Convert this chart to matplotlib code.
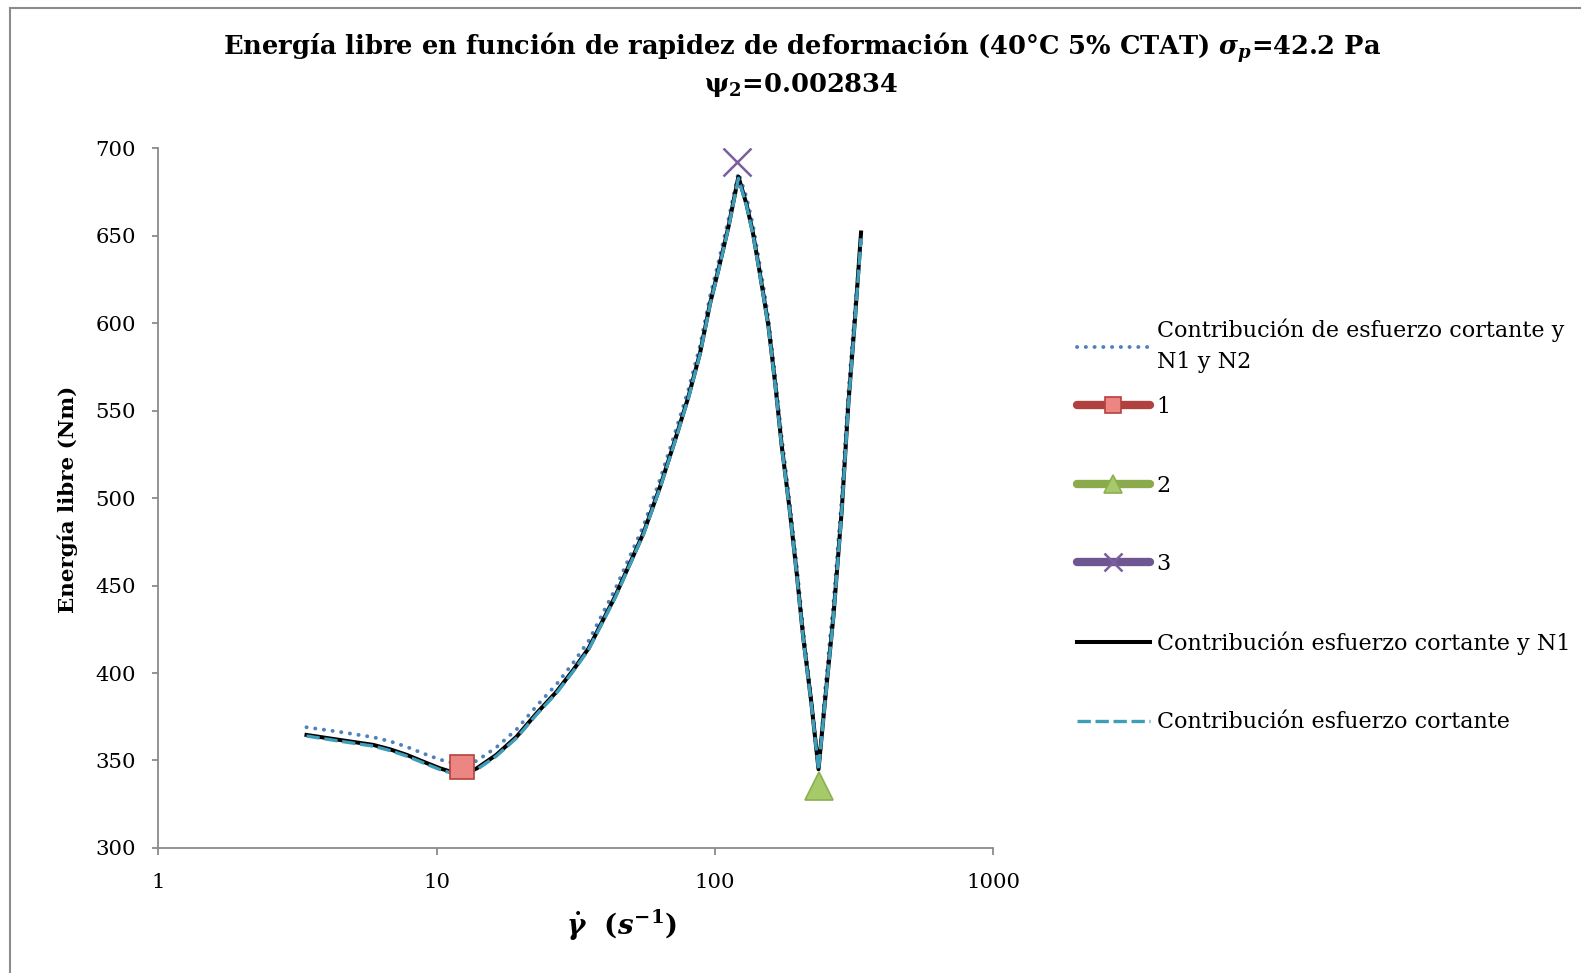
import numpy as np
import matplotlib.pyplot as plt
from matplotlib.lines import Line2D

plt.rcParams['font.family'] = ['DejaVu Serif']
plt.rcParams['mathtext.fontset'] = 'custom'
plt.rcParams['mathtext.it'] = 'DejaVu Serif:italic:bold'
plt.rcParams['mathtext.rm'] = 'DejaVu Serif:bold'
plt.rcParams['mathtext.bf'] = 'DejaVu Serif:bold'

# shear rate (1/s)
rate = [3.41, 4.51, 5.93, 6.8, 7.82, 8.97, 10.3, 12.3, 13.95, 16.4, 19.4, 22.9,
        27.0, 31.0, 35.2, 43.8, 55.4, 63.6, 72, 80.4, 88.5, 96.2, 103, 112,
        121.6, 130, 137, 144, 150, 156, 165, 174, 186, 197, 208, 222, 236,
        249, 267, 286, 302, 319, 335.5]

# contribucion esfuerzo cortante + N1 + N2
e_n1n2 = [369.0, 366.3, 363.3, 361.0, 357.8, 354.0, 350.5, 347.2, 349.8, 357.5,
          367.8, 381.2, 393.6, 405.9, 418.3, 447.8, 484.0, 510.8, 537.4, 562.0,
          587.0, 615.5, 634.6, 659.3, 686.0, 672.0, 656.5, 636.5, 619.5, 602.5,
          569.5, 534.5, 497.5, 461.5, 424.5, 386.5, 344.0, 390.0, 440.0, 500.0,
          560.0, 608.0, 648.0]

# contribucion esfuerzo cortante + N1
e_n1 = [364.6, 361.7, 358.9, 356.4, 353.2, 349.3, 345.5, 341.7, 345.5, 353.2,
        363.6, 377.0, 389.3, 401.7, 414.1, 443.6, 479.9, 506.5, 533.2, 557.9,
        582.8, 611.3, 630.4, 655.1, 683.7, 668.0, 652.0, 632.0, 615.0, 598.0,
        565.0, 530.0, 493.0, 457.0, 420.0, 384.0, 345.0, 384.0, 432.6, 493.2,
        553.7, 602.1, 651.8]

# contribucion esfuerzo cortante
e_shear = [364.0, 361.0, 358.2, 355.7, 352.5, 348.6, 344.8, 341.0, 344.8, 352.5,
           362.9, 376.3, 388.6, 401.0, 413.4, 442.9, 479.2, 505.8, 532.5, 557.2,
           582.1, 610.6, 629.7, 654.4, 682.8, 667.2, 651.2, 631.2, 614.2, 597.2,
           564.2, 529.2, 492.2, 456.2, 419.2, 383.2, 344.5, 383.2, 431.8, 492.4,
           552.9, 601.3, 648.5]

# puntos 1, 2, 3
pt_x = [12.3, 236, 120.3]
pt_y = [346.5, 335.7, 692.0]

fig = plt.figure(figsize=(15.81, 9.73), dpi=100)
ax = fig.add_axes([0.1001, 0.1285, 0.528, 0.7192])

l_dot, = ax.plot(rate, e_n1n2, color='#4F81BD', lw=2.8, linestyle=(0, (0.05, 2.2)),
                 dash_capstyle='round', zorder=2)
l_blk, = ax.plot(rate, e_n1, color='black', lw=2.9, zorder=3)
l_das, = ax.plot(rate, e_shear, color='#3E9DB8', lw=2.4, linestyle=(0, (4, 1.4)), zorder=4)

m1, = ax.plot(pt_x[0], pt_y[0], marker='s', ms=17, mfc='#EC8682', mec='#B5413E', mew=1.2,
              color='#B0413E', lw=6, solid_capstyle='round', zorder=6)
m2, = ax.plot(pt_x[1], pt_y[1], marker='^', ms=20, mfc='#A6C969', mec='#8CAF50', mew=1.2,
              color='#8AAA4C', lw=6, solid_capstyle='round', zorder=6)
m3, = ax.plot(pt_x[2], pt_y[2], marker='x', ms=20, mew=1.8, mec='#7A5E9E',
              color='#6F5592', lw=6, solid_capstyle='round', zorder=6)

ax.set_xscale('log')
ax.set_xlim(1, 1000)
ax.set_ylim(300, 700)
ax.set_xticks([1, 10, 100, 1000])
ax.set_xticklabels(['1', '10', '100', '1000'])
ax.xaxis.set_minor_locator(plt.NullLocator())
ax.set_yticks(np.arange(300, 701, 50))

for s in ['top', 'right']:
    ax.spines[s].set_visible(False)
for s in ['left', 'bottom']:
    ax.spines[s].set_color('#8a8a8a')
    ax.spines[s].set_linewidth(1.3)
ax.tick_params(axis='both', colors='#8a8a8a', labelcolor='black', labelsize=15.3, width=1.3)
ax.tick_params(axis='y', length=4.5, pad=11.5)
ax.tick_params(axis='x', length=5, pad=13)

leg1 = ax.legend([l_dot], ['Contribución de esfuerzo cortante y\nN1 y N2'],
                 loc='center left', bbox_to_anchor=(0.681, 0.6445),
                 bbox_transform=fig.transFigure, frameon=False, fontsize=16,
                 handlelength=3.3, handletextpad=0.3, borderpad=0, borderaxespad=0)
leg1.get_texts()[0].set_linespacing(1.5)
ax.add_artist(leg1)
ax.legend([m1, m2, m3, l_blk, l_das],
          ['1', '2', '3', 'Contribución esfuerzo cortante y N1', 'Contribución esfuerzo cortante'],
          loc='center left', bbox_to_anchor=(0.681, 0.4196),
          bbox_transform=fig.transFigure, frameon=False, fontsize=16,
          handlelength=3.3, handletextpad=0.3, borderpad=0, borderaxespad=0,
          labelspacing=2.54, markerscale=0.65)

fig.text(0.507, 1 - 47.4 / 973,
         r'Energía libre en función de rapidez de deformación (40°C 5% CTAT) $\sigma_p$=42.2 Pa',
         ha='center', va='center', fontsize=18.5, fontweight='bold')
fig.text(0.507, 1 - 84.7 / 973, r'ψ$_2$=0.002834',
         ha='center', va='center', fontsize=18.5, fontweight='bold')
fig.text(67.6 / 1581, 1 - 499 / 973, 'Energía libre (Nm)', rotation=90,
         ha='center', va='center', fontsize=15.4, fontweight='bold')
fig.text(621 / 1581, 1 - 925.6 / 973, r'$\dot{\gamma}\ \ (s^{-1})$',
         ha='center', va='center', fontsize=20)

# chart area border (cut at right/bottom)
fig.add_artist(Line2D([10 / 1581, 1], [1 - 8 / 973] * 2, transform=fig.transFigure,
                      color='#8c8c8c', lw=1.5))
fig.add_artist(Line2D([10 / 1581] * 2, [0, 1 - 8 / 973], transform=fig.transFigure,
                      color='#8c8c8c', lw=1.5))

fig.savefig('out.png', dpi=100)
